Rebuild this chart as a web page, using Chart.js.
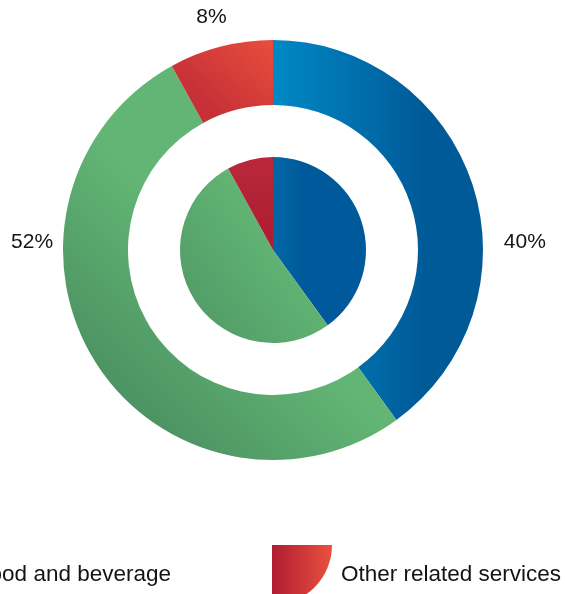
<!DOCTYPE html>
<html><head><meta charset="utf-8">
<script src="https://cdn.jsdelivr.net/npm/chart.js@4/dist/chart.umd.min.js"></script>
<style>html,body{margin:0;padding:0;background:#fff;overflow:hidden}</style>
</head><body>
<canvas id="c" width="565" height="594"></canvas>
<script>
const categories = ['Rooms', 'Food and beverage', 'Other related services'];
const outerValues = [40, 52, 8];
const innerValues = [40, 52, 8];
const outerLabels = ['40%', '52%', '8%'];

const FONT = '"Liberation Sans", Arial, Helvetica, sans-serif';

function geom(chart) {
  const a = chart.chartArea;
  return { cx: (a.left + a.right) / 2, cy: (a.top + a.bottom) / 2, R: Math.min(a.width, a.height) / 2 };
}
function lin(ctx, x0, y0, x1, y1, c0, c1) {
  const g = ctx.createLinearGradient(x0, y0, x1, y1);
  g.addColorStop(0, c0); g.addColorStop(1, c1);
  return g;
}
const solid = ['#0070b0', '#5aa86c', '#c83236'];

function outerColor(c) {
  const chart = c.chart;
  if (!chart.chartArea) return solid[c.dataIndex];
  const { cx, cy, R } = geom(chart); const ctx = chart.ctx;
  if (c.dataIndex === 0) return lin(ctx, cx, 0, cx + 0.72 * R, 0, '#0089c6', '#005a98');
  if (c.dataIndex === 1) return lin(ctx, cx - 0.92 * R, cy + 0.81 * R, cx - 0.21 * R, cy + 0.10 * R, '#46895e', '#62b574');
  return lin(ctx, cx, cy - R, cx - 0.3 * R, cy - 0.66 * R, '#e84d3d', '#c63037');
}
function innerColor(c) {
  const chart = c.chart;
  if (!chart.chartArea) return solid[c.dataIndex];
  const { cx, cy, R } = geom(chart); const ctx = chart.ctx;
  if (c.dataIndex === 0) return lin(ctx, cx, 0, cx + 0.14 * R, 0, '#0068a8', '#00599a');
  if (c.dataIndex === 1) return lin(ctx, cx - 0.42 * R, cy + 0.3 * R, cx + 0.05 * R, cy - 0.05 * R, '#519b67', '#62b574');
  return lin(ctx, cx, cy - 0.44 * R, cx, cy, '#b9283a', '#ab1b32');
}
const legendGrad = [['#005a98', '#0089c6'], ['#46895e', '#62b574'], ['#b01c34', '#e9513c']];

const pctLabels = {
  id: 'pctLabels',
  afterDraw(chart, args, opts) {
    const { cx, cy } = geom(chart); const ctx = chart.ctx;
    ctx.save();
    ctx.font = opts.font; ctx.fillStyle = '#141414';
    ctx.textAlign = 'center'; ctx.textBaseline = 'middle';
    outerLabels.forEach((t, i) => {
      const a = opts.angles[i] * Math.PI / 180, r = opts.radii[i];
      ctx.fillText(t, cx + r * Math.sin(a), cy - r * Math.cos(a));
    });
    ctx.restore();
  }
};

const quarterLegend = {
  id: 'quarterLegend',
  afterDraw(chart, args, opts) {
    const ctx = chart.ctx;
    ctx.save();
    ctx.font = opts.font;
    const size = opts.boxSize, top = opts.top;
    let bx = opts.lastBoxX;
    for (let i = categories.length - 1; i >= 0; i--) {
      const g = ctx.createLinearGradient(bx, 0, bx + size, 0);
      g.addColorStop(0, legendGrad[i][0]); g.addColorStop(1, legendGrad[i][1]);
      ctx.fillStyle = g;
      ctx.beginPath();
      ctx.moveTo(bx, top);
      ctx.lineTo(bx + size, top);
      ctx.arc(bx, top, size, 0, Math.PI / 2);
      ctx.closePath();
      ctx.fill();
      ctx.fillStyle = '#141414';
      ctx.textAlign = 'left'; ctx.textBaseline = 'alphabetic';
      ctx.fillText(categories[i], bx + size + opts.textGap, opts.baseline);
      if (i > 0) {
        const prevW = ctx.measureText(categories[i - 1]).width;
        bx = bx - opts.itemGap - prevW - opts.textGap - size;
      }
    }
    ctx.restore();
  }
};

new Chart(document.getElementById('c'), {
  type: 'pie',
  data: {
    labels: categories,
    datasets: [
      { data: outerValues, weight: 65, backgroundColor: outerColor, borderWidth: 0 },
      { data: [1], weight: 52, backgroundColor: 'rgba(0,0,0,0)', borderWidth: 0 },
      { data: innerValues, weight: 93, backgroundColor: innerColor, borderWidth: 0 }
    ]
  },
  options: {
    responsive: false,
    animation: false,
    devicePixelRatio: 1,
    events: [],
    layout: { padding: { left: 63, right: 82, top: 40, bottom: 134 } },
    plugins: {
      legend: { display: false },
      tooltip: { enabled: false },
      pctLabels: { font: '21px ' + FONT, angles: [88.2, 271.9, 345.2], radii: [252, 241, 241] },
      quarterLegend: { font: '22.5px ' + FONT, boxSize: 60, top: 545, lastBoxX: 272, textGap: 9, itemGap: 101, baseline: 581 }
    }
  },
  plugins: [pctLabels, quarterLegend]
});
</script>
</body></html>
